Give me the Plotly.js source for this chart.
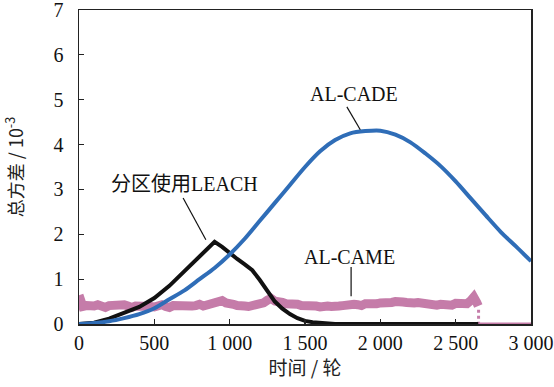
<!DOCTYPE html>
<html>
<head>
<meta charset="utf-8">
<script src="https://cdn.plot.ly/plotly-3.0.1.min.js"></script>
<style>html,body{margin:0;padding:0;background:#fff;}</style>
</head>
<body>
<div id="chart" style="width:554px;height:387px;"></div>
<script>
// ---- data ----
var cadeX = [0,100,200,300,400,500,600,700,800,900,1000,1100,1200,1300,1400,1500,1600,1700,1800,1900,2000,2100,2200,2300,2400,2500,2600,2700,2800,2900,3000];
var cadeY = [0,0.02,0.06,0.13,0.22,0.35,0.55,0.75,1.0,1.25,1.55,1.9,2.3,2.7,3.1,3.5,3.85,4.1,4.25,4.3,4.31,4.22,4.05,3.8,3.52,3.18,2.8,2.42,2.05,1.73,1.4];

var leachX = [0,100,200,300,400,500,600,700,800,850,900,950,1000,1050,1100,1150,1200,1250,1300,1350,1400,1450,1500,1550,1600,1700,2000,2650];
var leachY = [0,0.03,0.12,0.25,0.38,0.58,0.85,1.18,1.5,1.68,1.83,1.72,1.58,1.45,1.33,1.2,0.98,0.72,0.5,0.34,0.22,0.13,0.07,0.04,0.02,0,0,0];

var cameX = [0,10,25,50,75,100,125,150,175,200,225,250,275,300,325,350,375,400,425,450,475,500,525,550,575,600,625,650,675,700,725,750,775,800,825,850,875,900,925,950,975,1000,1025,1050,1075,1100,1125,1150,1175,1200,1225,1250,1275,1300,1325,1350,1375,1400,1425,1450,1475,1500,1525,1550,1575,1600,1625,1650,1675,1700,1725,1750,1775,1800,1825,1850,1875,1900,1925,1950,1975,2000,2025,2050,2075,2100,2125,2150,2175,2200,2225,2250,2275,2300,2325,2350,2375,2400,2425,2450,2475,2500,2525,2550,2575,2600,2620,2640,2650];
var cameY = [0.64,0.46,0.39,0.41,0.38,0.40,0.43,0.39,0.37,0.41,0.42,0.38,0.39,0.43,0.40,0.37,0.40,0.41,0.38,0.42,0.39,0.38,0.41,0.43,0.39,0.37,0.41,0.40,0.43,0.42,0.38,0.40,0.41,0.44,0.40,0.43,0.46,0.44,0.49,0.52,0.47,0.43,0.44,0.41,0.43,0.40,0.39,0.41,0.40,0.44,0.47,0.53,0.57,0.51,0.47,0.48,0.45,0.46,0.42,0.44,0.41,0.42,0.39,0.41,0.40,0.38,0.41,0.40,0.39,0.42,0.40,0.41,0.43,0.42,0.44,0.43,0.41,0.45,0.44,0.46,0.45,0.47,0.46,0.49,0.48,0.50,0.47,0.49,0.48,0.50,0.47,0.48,0.46,0.47,0.44,0.45,0.42,0.44,0.43,0.45,0.42,0.46,0.44,0.47,0.45,0.52,0.60,0.48,0.40];
var cameTailX = [2655,3000];
var cameTailY = [0,0];
var cameDropX = [2652,2652];
var cameDropY = [0.32,0];

var xTickVals = [0,500,1000,1500,2000,2500,3000];
var xTickText = ['0','500','1 000','1 500','2 000','2 500','3 000'];
var yTickVals = [0,1,2,3,4,5,6,7];
var yTickText = ['0','1','2','3','4','5','6','7'];

var labels = {cade:'AL-CADE', came:'AL-CAME', leach:'分区使用LEACH'};

var serif = 'Liberation Serif';
var mixed = 'Liberation Serif, Noto Sans CJK SC';
var cjk = 'Noto Sans CJK SC';

var traces = [
  {x: cameX, y: cameY, mode:'lines', line:{color:'#c57ca9', width:9}, name: labels.came, hoverinfo:'skip'},
  {x: cameDropX, y: cameDropY, mode:'lines', line:{color:'#c57ca9', width:3, dash:'dot'}, name: labels.came, hoverinfo:'skip'},
  {x: cameTailX, y: cameTailY, mode:'lines', line:{color:'#c57ca9', width:3}, name: labels.came, hoverinfo:'skip'},
  {x: leachX, y: leachY, mode:'lines', line:{color:'#111111', width:4}, name: labels.leach},
  {x: cadeX, y: cadeY, mode:'lines', line:{color:'#2f6db7', width:4, shape:'spline', smoothing:0.8}, name: labels.cade}
];

var layout = {
  width:554, height:387,
  margin:{l:79, r:23, t:10, b:63},
  paper_bgcolor:'#ffffff', plot_bgcolor:'#ffffff',
  showlegend:false,
  font:{family:serif, size:20, color:'#111'},
  xaxis:{
    range:[0,3000], tickvals:xTickVals, ticktext:xTickText,
    showline:true, linecolor:'#222', linewidth:1.5, mirror:true,
    ticks:'inside', ticklen:5, tickwidth:1.2, tickcolor:'#222',
    showgrid:false, zeroline:false, automargin:false,
    ticklabelstandoff:0, ticklabeloverflow:'allow',
    tickfont:{family:serif, size:20, color:'#111'},
    title:{text:'时间 / 轮', font:{family:cjk, size:19, color:'#222'}, standoff:4}
  },
  yaxis:{
    range:[0,7], tickvals:yTickVals, ticktext:yTickText,
    showline:true, linecolor:'#222', linewidth:1.5, mirror:true,
    ticks:'inside', ticklen:5, tickwidth:1.2, tickcolor:'#222',
    showgrid:false, zeroline:false, automargin:false,
    ticklabelstandoff:10, ticklabeloverflow:'allow',
    tickfont:{family:serif, size:20, color:'#111'},
    title:{text:'总方差 / 10<sup>-3</sup>', font:{family:cjk, size:18, color:'#222'}, standoff:28}
  },
  shapes:[
    {type:'line', xref:'x', yref:'y', x0:691, y0:2.81, x1:842, y1:1.88, line:{color:'#111', width:1.2}},
    {type:'line', xref:'x', yref:'y', x0:1778, y0:4.84, x1:1867, y1:4.33, line:{color:'#111', width:1.2}},
    {type:'line', xref:'x', yref:'y', x0:1806, y0:1.27, x1:1806, y1:0.62, line:{color:'#111', width:1.2}}
  ],
  annotations:[
    {x:1826, y:5.13, xref:'x', yref:'y', text:labels.cade, showarrow:false, font:{family:serif, size:20, color:'#111'}},
    {x:1793, y:1.50, xref:'x', yref:'y', text:labels.came, showarrow:false, font:{family:serif, size:20, color:'#111'}},
    {x:702, y:3.13, xref:'x', yref:'y', text:labels.leach, showarrow:false, font:{family:mixed, size:20, color:'#111'}}
  ]
};

Plotly.newPlot('chart', traces, layout, {displayModeBar:false, staticPlot:true});
</script>
</body>
</html>
